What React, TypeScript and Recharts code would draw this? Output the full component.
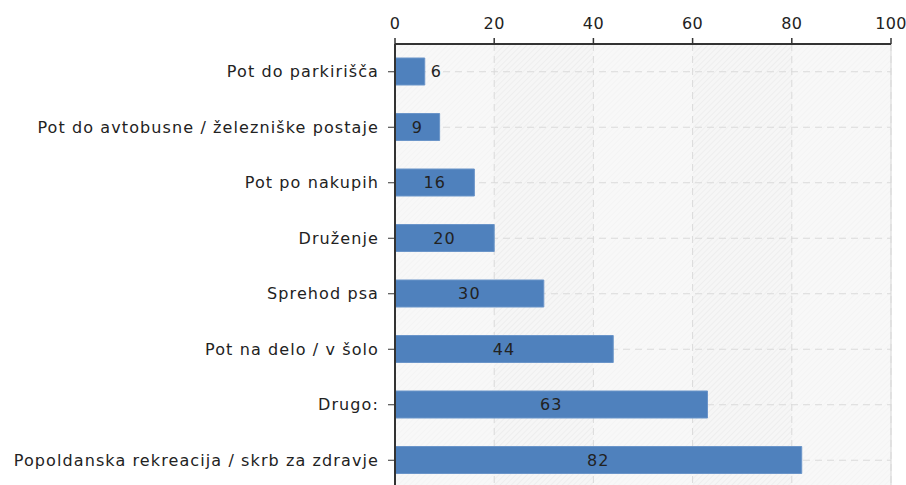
import { Bar, BarChart, CartesianGrid, LabelList, ReferenceLine, XAxis, YAxis } from "recharts";

const categories = [
  "Pot do parkirišča",
  "Pot do avtobusne / železniške postaje",
  "Pot po nakupih",
  "Druženje",
  "Sprehod psa",
  "Pot na delo / v šolo",
  "Drugo:",
  "Popoldanska rekreacija / skrb za zdravje",
];
const counts = [6, 9, 16, 20, 30, 44, 63, 82];
const xTicks = [0, 20, 40, 60, 80, 100];

const data = categories.map((name, i) => ({ name, count: counts[i] }));

const FONT = "'DejaVu Sans', Verdana, sans-serif";
const FS = 16;
const LS = 1.1;
const AXIS = "#333333";

function ValueLabel(props: any) {
  const { x, y, width, height, value } = props;
  const text = String(value);
  const inside = width > 36;
  return (
    <text
      x={inside ? x + width / 2 : x + width + 6}
      y={y + height / 2}
      textAnchor={inside ? "middle" : "start"}
      dominantBaseline="central"
      fontSize={FS}
      fontFamily={FONT}
      letterSpacing={LS}
      fill="#222"
    >
      {text}
    </text>
  );
}

export default function App() {
  return (
    <div style={{ position: "absolute", left: 0, top: 0, background: "#fff" }}>
      <BarChart
        width={906}
        height={492}
        data={data}
        layout="vertical"
        margin={{ top: 14, right: 15, bottom: 4, left: 0 }}
        barSize={27}
        style={{ fontFamily: FONT }}
      >
        <defs>
          <pattern id="hatch" width="4" height="4" patternUnits="userSpaceOnUse" patternTransform="rotate(45)">
            <rect width="4" height="4" fill="#f6f6f6" />
            <line x1="0" y1="0" x2="0" y2="4" stroke="#e6e6e6" strokeWidth="1" />
          </pattern>
          <pattern id="hatchLight" width="4" height="4" patternUnits="userSpaceOnUse" patternTransform="rotate(45)">
            <rect width="4" height="4" fill="#f8f8f8" />
            <line x1="0" y1="0" x2="0" y2="4" stroke="#f1f1f1" strokeWidth="1" />
          </pattern>
        </defs>
        <CartesianGrid
          stroke="#dadada"
          strokeDasharray="7 5"
          verticalFill={["url(#hatchLight)", "url(#hatch)"]}
          fillOpacity={1}
        />
        <ReferenceLine x={100} stroke="#d6d6d6" />
        <XAxis
          type="number"
          orientation="top"
          domain={[0, 100]}
          ticks={xTicks}
          height={30}
          tickSize={6}
          tickMargin={9}
          stroke={AXIS}
          axisLine={{ stroke: AXIS, strokeWidth: 2 }}
          tickLine={{ stroke: AXIS, strokeWidth: 1.5 }}
          tick={{ fill: "#222", fontSize: FS, fontFamily: FONT, letterSpacing: 0.4 }}
        />
        <YAxis
          type="category"
          dataKey="name"
          width={395}
          tickSize={7}
          tickMargin={9}
          stroke={AXIS}
          axisLine={{ stroke: AXIS, strokeWidth: 2 }}
          tickLine={{ stroke: AXIS }}
          tick={{ fill: "#222", fontSize: FS, fontFamily: FONT, letterSpacing: LS }}
        />
        <Bar dataKey="count" fill="#4f81bd" stroke="#6b95c9" strokeWidth={1} isAnimationActive={false}>
          <LabelList dataKey="count" content={ValueLabel} />
        </Bar>
      </BarChart>
    </div>
  );
}
